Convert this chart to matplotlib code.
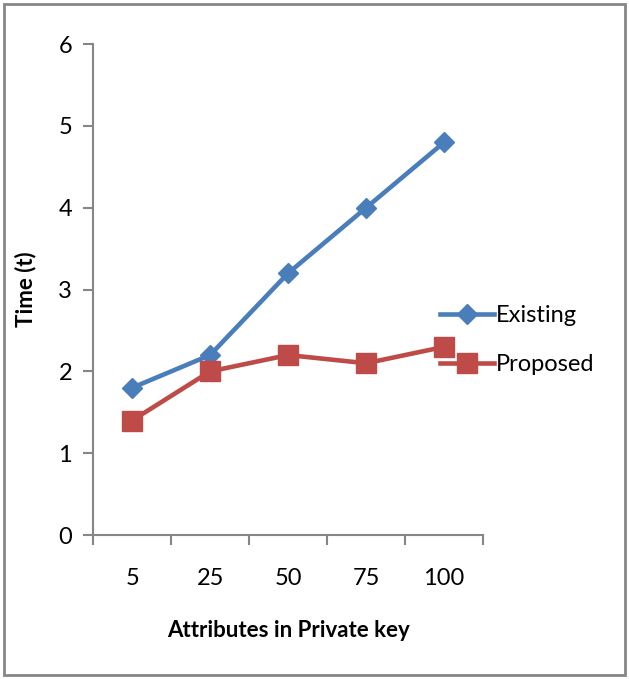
import matplotlib.pyplot as plt
from matplotlib.patches import Rectangle

plt.rcParams['font.family'] = ['Lato', 'DejaVu Sans']

attributes = ['5', '25', '50', '75', '100']
existing = [1.8, 2.2, 3.2, 4.0, 4.8]
proposed = [1.4, 2.0, 2.2, 2.1, 2.3]

blue = '#4A7EBB'
red = '#BE4B48'
grey = '#868686'

fig = plt.figure(figsize=(6.29, 6.79), dpi=100)
ax = fig.add_axes([0.148, 0.212, 0.62, 0.723])

x = list(range(len(attributes)))
ax.plot(x, existing, color=blue, lw=3.3, marker='D', ms=10, label='Existing')
ax.plot(x, proposed, color=red, lw=3.3, marker='s', ms=14, label='Proposed')

ax.set_xlim(-0.5, len(attributes) - 0.5)
ax.set_ylim(0, 6)
ax.set_yticks(range(0, 7))
ax.set_xticks(x)
ax.set_xticklabels(attributes)
ax.set_xticks([i - 0.5 for i in range(len(attributes) + 1)], minor=True)
ax.tick_params(axis='x', which='major', length=0, pad=24, labelsize=17)
ax.tick_params(axis='x', which='minor', length=7, width=1.5, color=grey, direction='out')
ax.tick_params(axis='y', length=7, width=1.5, color=grey, pad=8, labelsize=17)

for side in ['top', 'right']:
    ax.spines[side].set_visible(False)
for side in ['left', 'bottom']:
    ax.spines[side].set_color(grey)
    ax.spines[side].set_linewidth(1.5)

ax.set_xlabel('Attributes in Private key', fontsize=16, fontweight='bold', labelpad=22)
ax.set_ylabel('Time (t)', fontsize=16, fontweight='bold', labelpad=16)

fig.legend(loc='center left', bbox_to_anchor=(0.665, 0.499), frameon=False,
           fontsize=17, handlelength=2.3, handletextpad=0.1, labelspacing=1.2)

# outer chart border
fig.patches.append(Rectangle((0.006, 0.006), 0.988, 0.988, transform=fig.transFigure,
                             fill=False, edgecolor=grey, lw=2))

fig.savefig('out.png', dpi=100)
